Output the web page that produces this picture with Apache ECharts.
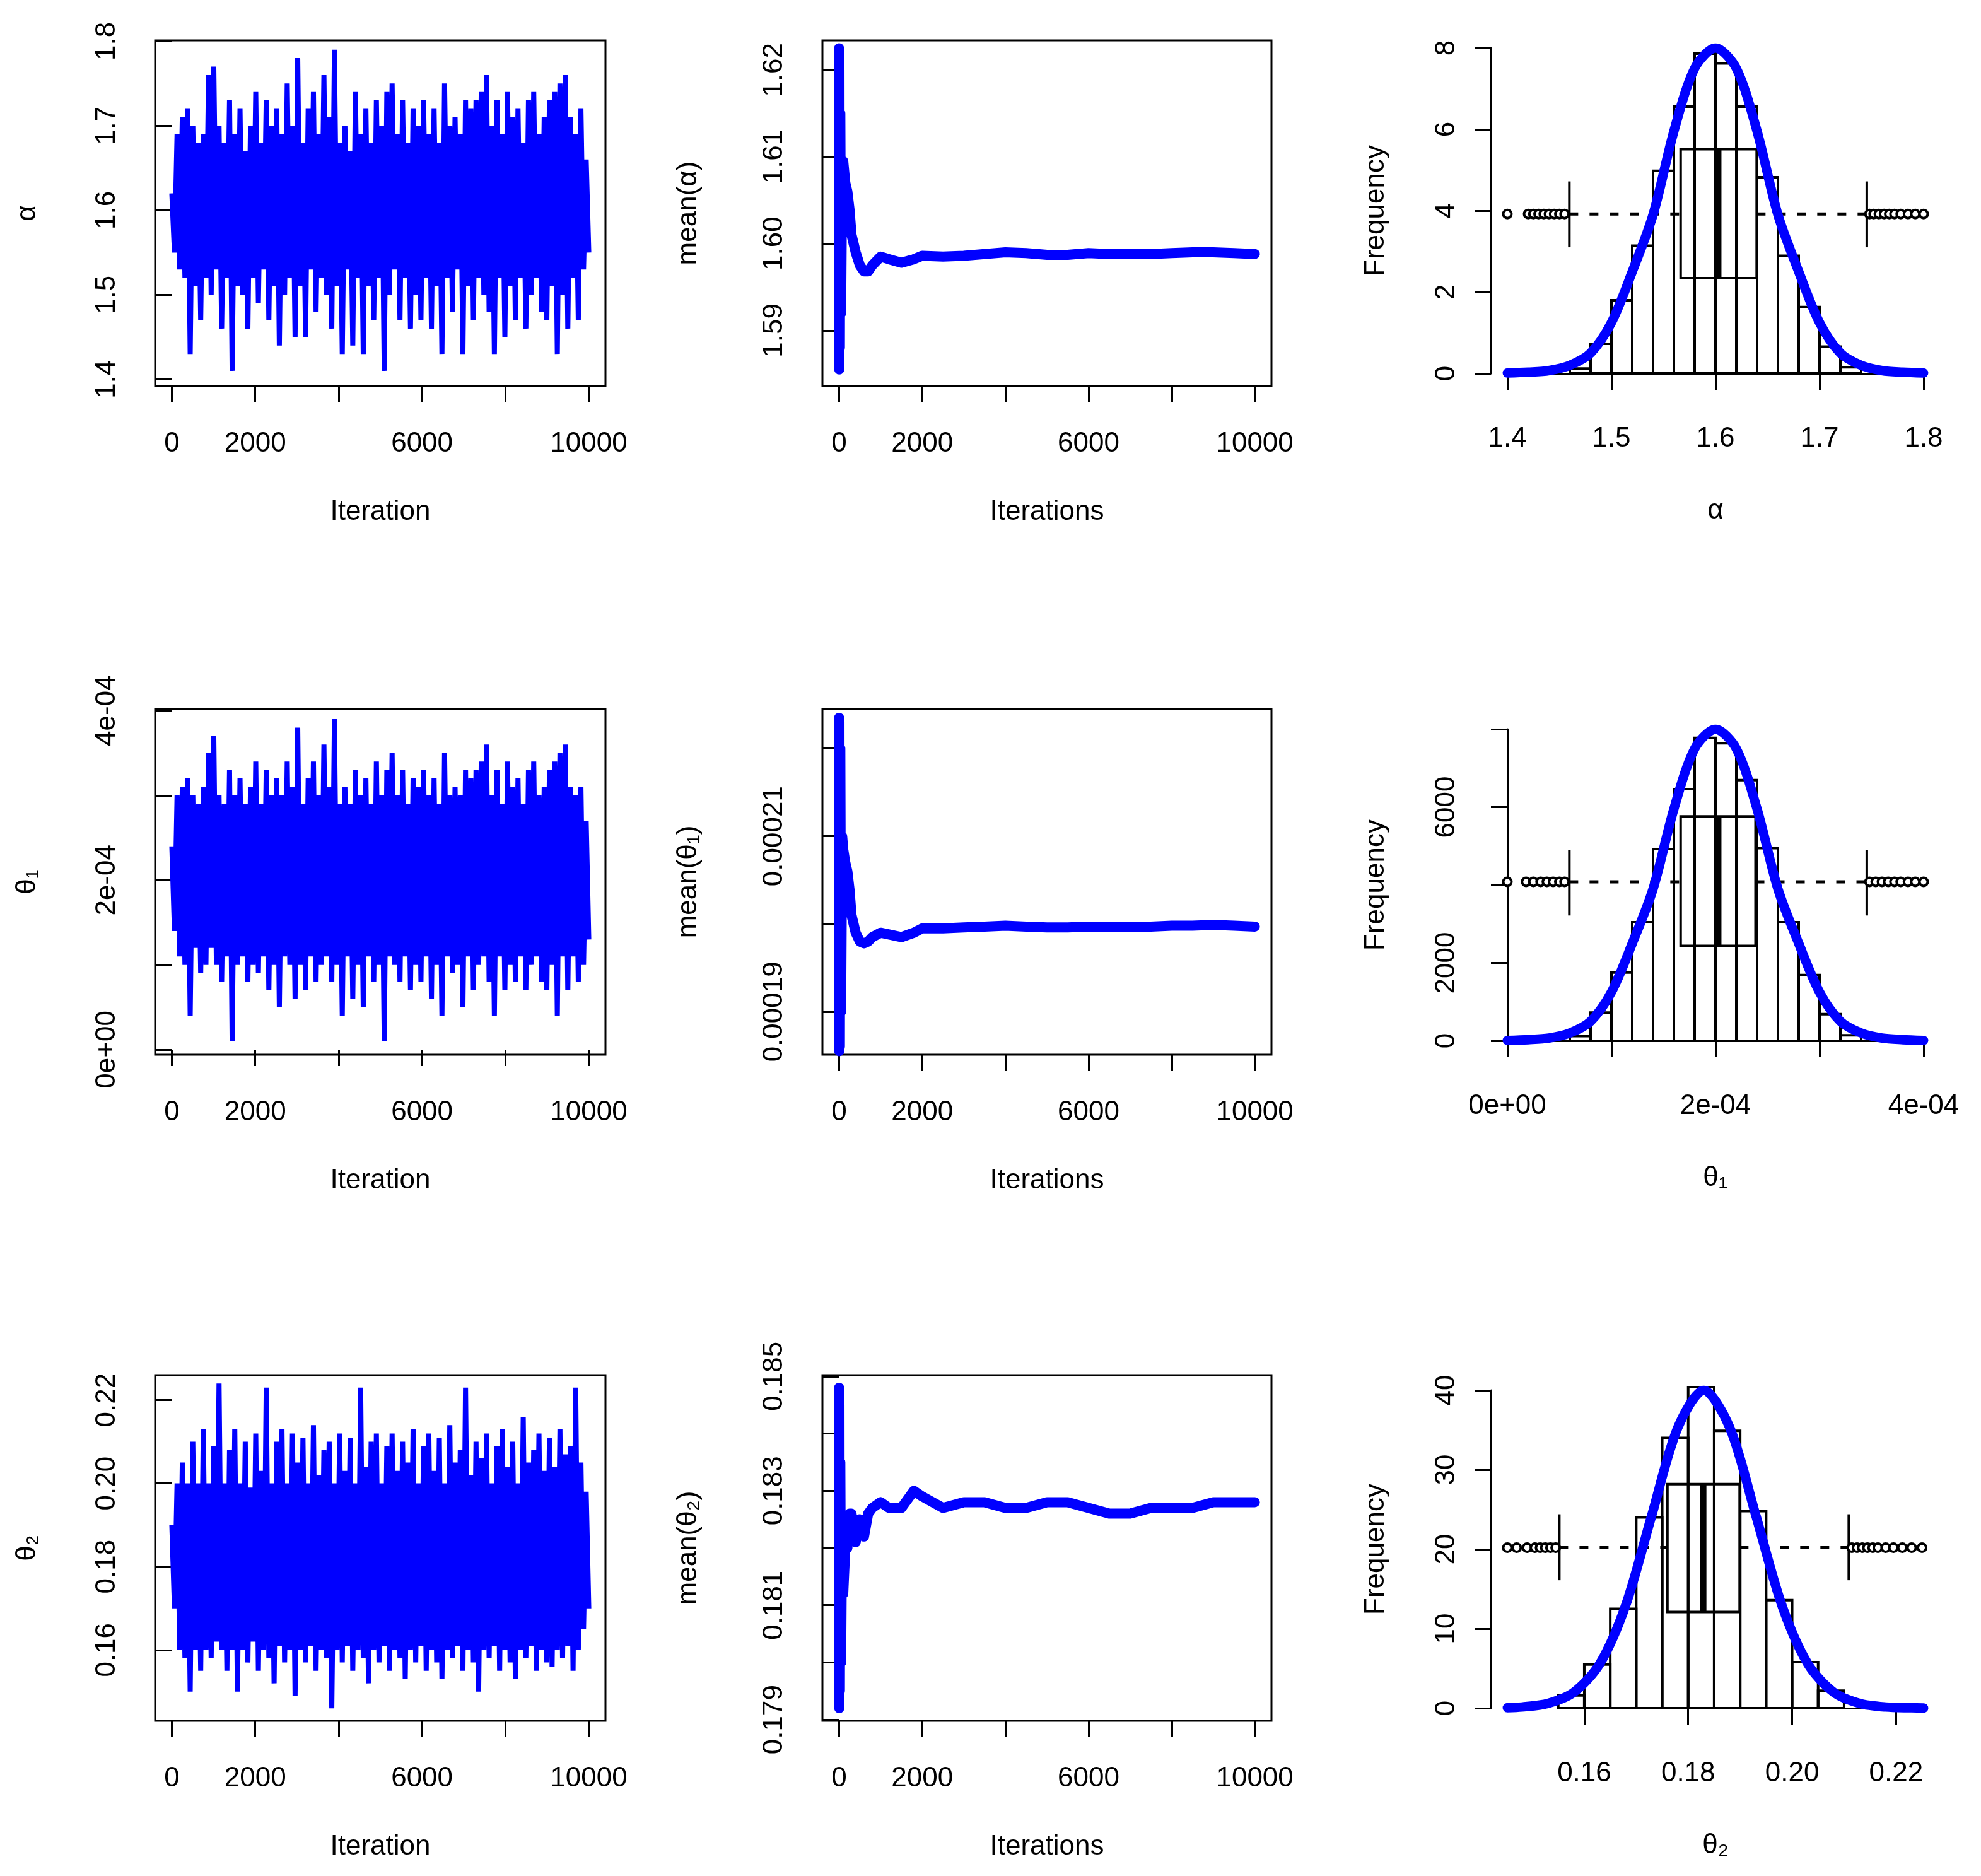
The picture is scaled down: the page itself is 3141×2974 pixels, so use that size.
<!DOCTYPE html>
<html>
<head>
<meta charset="utf-8">
<script src="https://cdn.jsdelivr.net/npm/echarts@6/dist/echarts.min.js"></script>
<style>
  html, body { margin: 0; padding: 0; background: #fff; }
  #main { width: 3141px; height: 2974px; }
</style>
</head>
<body>
<div id="main"></div>
<script>
// ---- trace values (thinned draws) ----
let alphaTrace = [
  1.62,1.55,1.69,1.53,1.71,1.52,1.72,1.43,1.70,1.51,
  1.68,1.47,1.69,1.52,1.76,1.50,1.77,1.53,1.70,1.46,
  1.68,1.52,1.73,1.41,1.69,1.51,1.72,1.50,1.67,1.46,
  1.70,1.52,1.74,1.49,1.68,1.53,1.73,1.47,1.70,1.51,
  1.72,1.44,1.69,1.50,1.75,1.52,1.70,1.45,1.78,1.51,
  1.68,1.45,1.72,1.53,1.74,1.48,1.69,1.52,1.76,1.50,
  1.71,1.46,1.79,1.51,1.68,1.43,1.70,1.53,1.67,1.44,
  1.74,1.52,1.69,1.43,1.72,1.51,1.68,1.47,1.73,1.52,
  1.70,1.41,1.74,1.50,1.75,1.53,1.69,1.47,1.73,1.52,
  1.68,1.46,1.72,1.50,1.70,1.47,1.73,1.52,1.69,1.46,
  1.72,1.51,1.68,1.43,1.75,1.52,1.70,1.48,1.71,1.53,
  1.69,1.43,1.73,1.51,1.72,1.47,1.73,1.52,1.74,1.50,
  1.76,1.48,1.70,1.43,1.73,1.52,1.69,1.45,1.74,1.51,
  1.71,1.47,1.72,1.52,1.68,1.46,1.73,1.50,1.74,1.52,
  1.69,1.48,1.71,1.47,1.73,1.51,1.74,1.43,1.75,1.50,
  1.76,1.46,1.71,1.52,1.69,1.47,1.72,1.53,1.66,1.55
]
// theta1 in units of 1e-4
let theta1Trace = [
  2.4,1.4,3.0,1.1,3.1,1.0,3.2,0.4,3.0,1.2,
  2.9,0.9,3.1,1.0,3.5,1.2,3.7,1.0,3.0,0.8,
  2.9,1.1,3.3,0.1,3.0,1.0,3.2,1.1,2.9,0.8,
  3.1,1.0,3.4,0.9,2.9,1.1,3.3,0.7,3.0,1.0,
  3.2,0.5,3.0,1.1,3.4,1.0,3.1,0.6,3.8,1.0,
  2.9,0.7,3.2,1.1,3.4,0.8,3.0,1.0,3.6,1.1,
  3.1,0.8,3.9,1.0,2.9,0.4,3.1,1.1,2.9,0.6,
  3.3,1.0,3.0,0.5,3.2,1.1,2.9,0.8,3.4,1.0,
  3.0,0.1,3.3,1.1,3.5,1.0,3.0,0.8,3.3,1.1,
  2.9,0.7,3.2,1.0,3.1,0.8,3.3,1.1,3.0,0.6,
  3.2,1.0,2.9,0.4,3.5,1.1,3.0,0.9,3.1,1.0,
  3.0,0.5,3.3,1.1,3.2,0.7,3.3,1.0,3.4,1.1,
  3.6,0.8,3.0,0.4,3.3,1.1,2.9,0.7,3.4,1.0,
  3.1,0.8,3.2,1.1,2.9,0.7,3.3,1.0,3.4,1.1,
  3.0,0.8,3.1,0.7,3.3,1.0,3.4,0.4,3.5,1.1,
  3.6,0.7,3.1,1.1,3.0,0.8,3.1,1.0,2.7,1.3
]
let theta2Trace = [
  0.19,0.17,0.20,0.16,0.205,0.158,0.20,0.15,0.21,0.16,
  0.20,0.155,0.213,0.16,0.20,0.158,0.209,0.162,0.224,0.16,
  0.20,0.155,0.208,0.16,0.213,0.15,0.20,0.16,0.21,0.157,
  0.199,0.162,0.212,0.155,0.203,0.16,0.223,0.158,0.20,0.152,
  0.21,0.161,0.213,0.157,0.20,0.16,0.212,0.149,0.205,0.16,
  0.211,0.157,0.20,0.161,0.214,0.155,0.202,0.16,0.208,0.158,
  0.21,0.146,0.20,0.16,0.212,0.157,0.203,0.161,0.211,0.155,
  0.20,0.16,0.223,0.158,0.204,0.152,0.21,0.16,0.212,0.157,
  0.20,0.161,0.209,0.155,0.212,0.16,0.203,0.158,0.21,0.153,
  0.205,0.16,0.213,0.157,0.20,0.161,0.209,0.155,0.212,0.16,
  0.203,0.157,0.211,0.153,0.20,0.16,0.214,0.158,0.205,0.161,
  0.208,0.155,0.223,0.16,0.202,0.157,0.21,0.15,0.206,0.16,
  0.212,0.158,0.20,0.161,0.209,0.155,0.213,0.16,0.204,0.157,
  0.21,0.153,0.20,0.16,0.216,0.158,0.205,0.161,0.208,0.155,
  0.212,0.16,0.203,0.157,0.211,0.156,0.204,0.16,0.213,0.158,
  0.207,0.161,0.209,0.155,0.223,0.16,0.205,0.165,0.198,0.17
]

// ---- running means ----
let meanIter = [1,5,10,20,30,50,75,100,150,200,250,300,400,500,600,700,800,1000,1200,1500,1800,2000,2500,3000,3500,4000,4500,5000,5500,6000,6500,7000,7500,8000,8500,9000,9500,10000]
let alphaMean = [1.6225,1.5855,1.6200,1.5880,1.6150,1.5920,1.6080,1.6095,1.6070,1.6060,1.6040,1.6010,1.5990,1.5975,1.5968,1.5968,1.5975,1.5985,1.5982,1.5978,1.5982,1.5986,1.5985,1.5986,1.5988,1.5990,1.5989,1.5987,1.5987,1.5989,1.5988,1.5988,1.5988,1.5989,1.5990,1.5990,1.5989,1.5988]
let theta1Mean = [2.235,1.855,2.230,1.860,2.200,1.900,2.100,2.085,2.070,2.060,2.040,2.010,1.990,1.980,1.978,1.980,1.985,1.990,1.988,1.985,1.990,1.995,1.995,1.996,1.997,1.998,1.997,1.996,1.996,1.997,1.997,1.997,1.997,1.998,1.998,1.999,1.998,1.997]
let theta2Mean = [0.1848,0.1792,0.1845,0.1795,0.1835,0.1800,0.1825,0.1812,0.1820,0.1820,0.1826,0.1826,0.1821,0.1825,0.1822,0.1826,0.1827,0.1828,0.1827,0.1827,0.1830,0.1829,0.1827,0.1828,0.1828,0.1827,0.1827,0.1828,0.1828,0.1827,0.1826,0.1826,0.1827,0.1827,0.1827,0.1828,0.1828,0.1828]

// ---- histograms: [left, right, count] ----
let alphaBins = [[1.46,1.48,0.12],[1.48,1.50,0.73],[1.50,1.52,1.8],[1.52,1.54,3.14],[1.54,1.56,4.98],[1.56,1.58,6.56],[1.58,1.60,7.86],[1.60,1.62,7.62],[1.62,1.64,6.56],[1.64,1.66,4.82],[1.66,1.68,2.89],[1.68,1.70,1.63],[1.70,1.72,0.66],[1.72,1.74,0.15]]
let theta1Bins = [[0.6,0.8,120],[0.8,1.0,724],[1.0,1.2,1753],[1.2,1.4,3045],[1.4,1.6,4922],[1.6,1.8,6461],[1.8,2.0,7778],[2.0,2.2,7638],[2.2,2.4,6691],[2.4,2.6,4947],[2.6,2.8,3045],[2.8,3.0,1687],[3.0,3.2,683],[3.2,3.4,140]]
let theta2Bins = [[0.155,0.160,1.6],[0.160,0.165,5.5],[0.165,0.170,12.5],[0.170,0.175,24],[0.175,0.180,34],[0.180,0.185,40.4],[0.185,0.190,34.9],[0.190,0.195,24.8],[0.195,0.200,13.6],[0.200,0.205,5.8],[0.205,0.210,2.2]]

// ---- density curves ----
let alphaCurveX = [1.40,1.42,1.44,1.46,1.48,1.50,1.52,1.54,1.56,1.58,1.60,1.62,1.64,1.66,1.68,1.70,1.72,1.74,1.76,1.78,1.80]
let alphaCurveY = [0.01,0.03,0.07,0.2,0.5,1.25,2.5,3.9,5.95,7.5,8.0,7.5,5.95,3.9,2.5,1.25,0.5,0.2,0.07,0.03,0.01]
let theta1CurveX = [0,0.2,0.4,0.6,0.8,1.0,1.2,1.4,1.6,1.8,2.0,2.2,2.4,2.6,2.8,3.0,3.2,3.4,3.6,3.8,4.0]
let theta1CurveY = [10,30,70,200,500,1250,2500,3900,5950,7500,8000,7500,5950,3900,2500,1250,500,200,70,30,10]
let theta2CurveX = [0.1452,0.148,0.153,0.158,0.163,0.168,0.173,0.178,0.183,0.188,0.193,0.198,0.203,0.208,0.213,0.218,0.223,0.2253]
let theta2CurveY = [0.05,0.15,0.6,2.0,5.6,13.0,24.3,35.3,40,35.3,24.3,13.0,5.6,2.0,0.6,0.15,0.05,0.02]

// ---- box plots: [q1, median, q3, whiskerLo, whiskerHi, yCenter, yBoxLo, yBoxHi, yCapLo, yCapHi] ----
let alphaBox = [1.5665,1.6027,1.6396,1.4596,1.7454,3.92,2.34,5.51,3.10,4.72]
let theta1Box = [1.665,2.027,2.385,0.596,3.454,4082,2436,5761,3218,4905]
let theta2Box = [0.176,0.1829,0.1899,0.1552,0.2109,20.2,12.1,28.2,16.1,24.4]
let alphaOut = [1.400,1.420,1.425,1.430,1.435,1.440,1.445,1.450,1.455,1.748,1.752,1.757,1.762,1.767,1.772,1.778,1.785,1.792,1.800]
let theta1Out = [0.0,0.18,0.25,0.32,0.38,0.44,0.50,0.55,3.48,3.54,3.60,3.66,3.72,3.78,3.85,3.92,4.0]
let theta2Out = [0.1452,0.1470,0.1490,0.1505,0.1515,0.1525,0.1535,0.1545,0.2115,0.2125,0.2135,0.2145,0.2155,0.2165,0.2180,0.2195,0.2212,0.2230,0.2250]

const FONT = 'Liberation Sans'
const FS = 44
const BLUE = '#0000FF'
const chart = echarts.init(document.getElementById('main'), null, {renderer: 'canvas'})

const rowTop = [64, 1124, 2180]
const boxH = 548

let grids = [], xAxes = [], yAxes = [], series = []
let plain = v => String(v)

function tickAxis(o) {
  return {
    type: 'value', gridIndex: o.grid, min: o.min, max: o.max, offset: o.offset || 0,
    name: o.name, nameLocation: 'middle', nameGap: o.nameGap,
    nameTextStyle: {fontFamily: FONT, fontSize: o.nameSize || FS, color: '#000'},
    axisLine: {show: !!o.line, lineStyle: {color: '#000', width: 3}},
    axisTick: {show: !o.noTicks, length: 26, lineStyle: {color: '#000', width: 3}, customValues: o.ticks},
    axisLabel: {show: !o.noTicks, fontFamily: FONT, fontSize: FS, color: '#000', margin: o.margin || 42,
      rotate: o.rotate || 0, customValues: o.labels, formatter: o.fmt || plain},
    splitLine: {show: false}
  }
}

function addGrid(left, top, width, height, box) {
  grids.push({left: left, top: top, width: width, height: height, show: !!box,
    borderColor: '#000', borderWidth: box ? 3 : 0, containLabel: false})
  return grids.length - 1
}

let traceIdx = [0, 2000, 4000, 6000, 8000, 10000]
let traceLab = [0, 2000, 6000, 10000]

// ---- column 1 & 2: trace + running mean ----
let rowsTM = [
  {trace: alphaTrace, mean: alphaMean, yName: 'α', mName: 'mean(α)',
   ty: [1.392, 1.801], tt: [1.4,1.5,1.6,1.7,1.8], tl: [1.4,1.5,1.6,1.7,1.8], tf: v => v.toFixed(1),
   my: [1.5836, 1.6234], mt: [1.59,1.60,1.61,1.62], ml: [1.59,1.60,1.61,1.62], mf: v => v.toFixed(2)},
  {trace: theta1Trace, mean: theta1Mean, yName: 'θ₁', mName: 'mean(θ₁)',
   ty: [-0.06, 4.02], tt: [0,1,2,3,4], tl: [0,2,4], tf: v => ({0:'0e+00',2:'2e-04',4:'4e-04'})[Math.round(v)],
   my: [1.851, 2.245], mt: [1.9,2.0,2.1,2.2], ml: [1.9,2.1], mf: v => '0.000' + Math.round(v * 10)},
  {trace: theta2Trace, mean: theta2Mean, yName: 'θ₂', mName: 'mean(θ₂)',
   ty: [0.143, 0.226], tt: [0.16,0.18,0.20,0.22], tl: [0.16,0.18,0.20,0.22], tf: v => v.toFixed(2),
   my: [0.17898, 0.18502], mt: [0.179,0.180,0.181,0.182,0.183,0.184,0.185], ml: [0.179,0.181,0.183,0.185], mf: v => v.toFixed(3)}
]

rowsTM.forEach(function(r, i) {
  let g = addGrid(246, rowTop[i], 714, boxH, true)
  xAxes.push(tickAxis({grid: g, min: -400, max: 10400, ticks: traceIdx, labels: traceLab,
    name: 'Iteration', nameGap: 178, margin: 70}))
  yAxes.push(tickAxis({grid: g, min: r.ty[0], max: r.ty[1], ticks: r.tt, labels: r.tl, fmt: r.tf,
    rotate: 90, name: r.yName, nameGap: 180, margin: 54}))
  let n = r.trace.length
  series.push({type: 'line', xAxisIndex: g, yAxisIndex: g, showSymbol: false, animation: false,
    data: r.trace.map((v, k) => [k * 10000 / (n - 1), v]),
    lineStyle: {color: BLUE, width: 8, join: 'bevel'}, clip: true})

  let g2 = addGrid(1304, rowTop[i], 712, boxH, true)
  xAxes.push(tickAxis({grid: g2, min: -400, max: 10400, ticks: traceIdx, labels: traceLab,
    name: 'Iterations', nameGap: 178, margin: 70}))
  yAxes.push(tickAxis({grid: g2, min: r.my[0], max: r.my[1], ticks: r.mt, labels: r.ml, fmt: r.mf,
    rotate: 90, name: r.mName, nameGap: 190, margin: 54}))
  series.push({type: 'line', xAxisIndex: g2, yAxisIndex: g2, showSymbol: false, animation: false,
    data: meanIter.map((x, k) => [x, r.mean[k]]),
    lineStyle: {color: BLUE, width: 16, cap: 'round', join: 'round'}})
})

// ---- column 3: histograms with box plot and density ----
let histTop = [76, 1156, 2204]
let histH = [516, 494, 504]
let rowsH = [
  {bins: alphaBins, cx: alphaCurveX, cy: alphaCurveY, box: alphaBox, out: alphaOut, name: 'α',
   x: [1.4, 1.8], xt: [1.4,1.5,1.6,1.7,1.8], xl: [1.4,1.5,1.6,1.7,1.8], xf: v => v.toFixed(1),
   y: 8, yt: [0,2,4,6,8], yl: [0,2,4,6,8]},
  {bins: theta1Bins, cx: theta1CurveX, cy: theta1CurveY, box: theta1Box, out: theta1Out, name: 'θ₁',
   x: [0, 4], xt: [0,1,2,3,4], xl: [0,2,4], xf: v => ({0:'0e+00',2:'2e-04',4:'4e-04'})[Math.round(v)],
   y: 8000, yt: [0,2000,4000,6000,8000], yl: [0,2000,6000]},
  {bins: theta2Bins, cx: theta2CurveX, cy: theta2CurveY, box: theta2Box, out: theta2Out, name: 'θ₂',
   x: [0.1452, 0.2253], xt: [0.16,0.18,0.20,0.22], xl: [0.16,0.18,0.20,0.22], xf: v => v.toFixed(2),
   y: 40, yt: [0,10,20,30,40], yl: [0,10,20,30,40], split: true}
]

rowsH.forEach(function(r, i) {
  let g = addGrid(2390, histTop[i], 660, histH[i], false)
  if (r.split) {
    // only the axis title lives on the full-width axis
    xAxes.push(tickAxis({grid: g, min: r.x[0], max: r.x[1], noTicks: true, offset: 24,
      name: r.name, nameGap: 172}))
  } else {
    xAxes.push(tickAxis({grid: g, min: r.x[0], max: r.x[1], ticks: r.xt, labels: r.xl, fmt: r.xf,
      line: true, offset: 24, name: r.name, nameGap: 172, margin: 58}))
  }
  yAxes.push(tickAxis({grid: g, min: 0, max: r.y, ticks: r.yt, labels: r.yl, line: true, offset: 26,
    rotate: 90, name: 'Frequency', nameGap: 160, margin: 48}))

  const blk = {color: '#000', width: 4}
  series.push({type: 'custom', xAxisIndex: g, yAxisIndex: g, animation: false,
    encode: {x: [0, 1], y: 2}, data: r.bins,
    renderItem: function(params, api) {
      let p0 = api.coord([api.value(0), api.value(2)])
      let p1 = api.coord([api.value(1), 0])
      return {type: 'rect', shape: {x: p0[0], y: p0[1], width: p1[0] - p0[0], height: p1[1] - p0[1]},
        style: {fill: 'none', stroke: '#000', lineWidth: 4}}
    }})
  let b = r.box
  series.push({type: 'custom', xAxisIndex: g, yAxisIndex: g, animation: false,
    encode: {x: [0, 1], y: [2, 3]}, data: [[b[0], b[2], b[6], b[7]]],
    renderItem: function(params, api) {
      let p0 = api.coord([api.value(0), api.value(3)])
      let p1 = api.coord([api.value(1), api.value(2)])
      return {type: 'rect', shape: {x: p0[0], y: p0[1], width: p1[0] - p0[0], height: p1[1] - p0[1]},
        style: {fill: 'none', stroke: '#000', lineWidth: 4}}
    }})
  let seg = (data, style) => series.push({type: 'line', xAxisIndex: g, yAxisIndex: g, showSymbol: false,
    animation: false, data: data, lineStyle: style})
  seg([[b[1], b[6]], [b[1], b[7]]], {color: '#000', width: 10})
  seg([[b[3], b[5]], [b[0], b[5]]], {color: '#000', width: 5, type: [14, 18]})
  seg([[b[2], b[5]], [b[4], b[5]]], {color: '#000', width: 5, type: [14, 18]})
  seg([[b[3], b[8]], [b[3], b[9]]], blk)
  seg([[b[4], b[8]], [b[4], b[9]]], blk)
  series.push({type: 'scatter', xAxisIndex: g, yAxisIndex: g, animation: false, symbol: 'circle',
    symbolSize: 13, data: r.out.map(v => [v, b[5]]), z: 4,
    itemStyle: {color: '#ffffff', borderColor: '#000000', borderWidth: 4, opacity: 1}})
  series.push({type: 'line', xAxisIndex: g, yAxisIndex: g, showSymbol: false, animation: false,
    smooth: 0.3, data: r.cx.map((x, k) => [x, r.cy[k]]),
    lineStyle: {color: BLUE, width: 15, cap: 'round', join: 'round'}, z: 5})

  if (r.split) {
    // R only draws the x axis between the outer ticks
    let x0 = 2390 + (0.16 - r.x[0]) / (r.x[1] - r.x[0]) * 660
    let x1 = 2390 + (0.22 - r.x[0]) / (r.x[1] - r.x[0]) * 660
    let ga = addGrid(x0, histTop[i], x1 - x0, histH[i], false)
    xAxes.push(tickAxis({grid: ga, min: 0.16, max: 0.22, ticks: r.xt, labels: r.xl, fmt: r.xf,
      line: true, offset: 24, margin: 58}))
    yAxes.push({type: 'value', gridIndex: ga, min: 0, max: 40, show: false})
  }
})

chart.setOption({
  animation: false,
  backgroundColor: '#fff',
  textStyle: {fontFamily: FONT},
  grid: grids,
  xAxis: xAxes,
  yAxis: yAxes,
  series: series
})
</script>
</body>
</html>
